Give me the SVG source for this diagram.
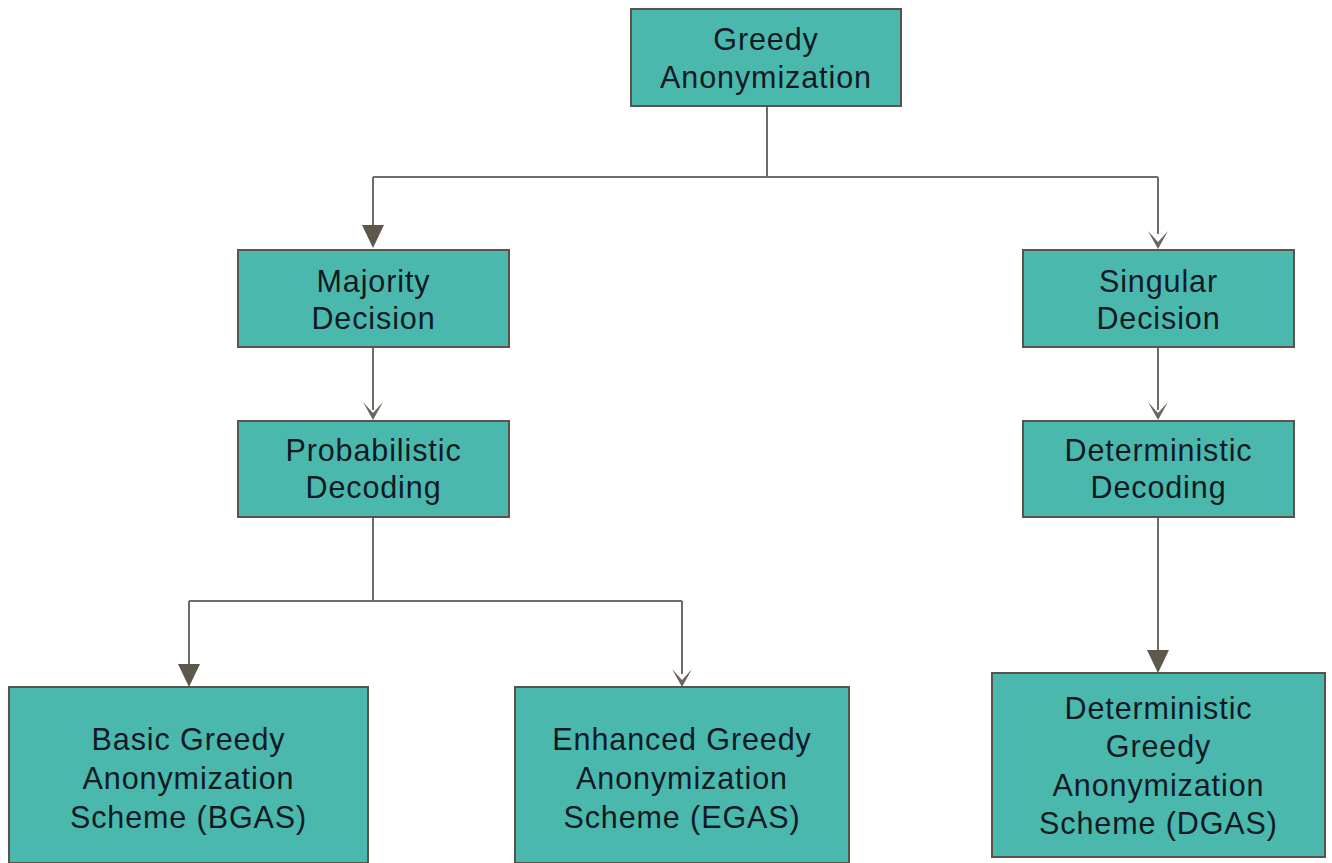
<svg xmlns="http://www.w3.org/2000/svg" width="1332" height="863" viewBox="0 0 1332 863">
  <style>
    .box { fill: #4bb8ad; stroke: #5b524a; stroke-width: 2; }
    .lbl { font-family: "Liberation Sans", Arial, sans-serif; font-size: 30.5px; fill: #111a24; text-anchor: middle; letter-spacing: 0.9px; }
    .wire { fill: none; stroke: #6e6a66; stroke-width: 2; }
    .solid { fill: #5e574b; }
    .barb { fill: #6b6560; }
  </style>
  <defs>
    <!-- filled triangular head, tip at origin pointing down -->
    <path id="headSolid" class="solid" d="M-11,-23 L11,-23 L0,0 Z"/>
    <!-- barbed head with concave back -->
    <path id="headBarb" class="barb" d="M-10,-18 L0,0 L10,-18 L0,-7 Z"/>
  </defs>
  <rect width="1332" height="863" fill="#ffffff"/>

  <g id="connectors">
    <path class="wire" d="M767,106 V177 M373,177 H1158 M373,177 V228 M1158,177 V234"/>
    <use href="#headSolid" x="373" y="248"/>
    <use href="#headBarb" x="1158" y="249"/>
    <path class="wire" d="M373,347 V410"/>
    <use href="#headBarb" x="373" y="420"/>
    <path class="wire" d="M1158,347 V410"/>
    <use href="#headBarb" x="1158" y="420"/>
    <path class="wire" d="M373,517 V601 M189,601 H682 M189,601 V666 M682,601 V674"/>
    <use href="#headSolid" x="189" y="687"/>
    <use href="#headBarb" x="682" y="687"/>
    <path class="wire" d="M1158,517 V652"/>
    <use href="#headSolid" x="1158" y="673"/>
  </g>

  <g id="greedy-anonymization">
    <rect class="box" x="631" y="9" width="270" height="97"/>
    <text class="lbl" x="766" y="50">Greedy</text>
    <text class="lbl" x="766" y="88">Anonymization</text>
  </g>

  <g id="majority-decision">
    <rect class="box" x="238" y="250" width="271" height="97"/>
    <text class="lbl" x="373.5" y="292">Majority</text>
    <text class="lbl" x="373.5" y="329">Decision</text>
  </g>

  <g id="singular-decision">
    <rect class="box" x="1023" y="250" width="271" height="97"/>
    <text class="lbl" x="1158.5" y="292">Singular</text>
    <text class="lbl" x="1158.5" y="329">Decision</text>
  </g>

  <g id="probabilistic-decoding">
    <rect class="box" x="238" y="421" width="271" height="96"/>
    <text class="lbl" x="373.5" y="461">Probabilistic</text>
    <text class="lbl" x="373.5" y="498">Decoding</text>
  </g>

  <g id="deterministic-decoding">
    <rect class="box" x="1023" y="421" width="271" height="96"/>
    <text class="lbl" x="1158.5" y="461">Deterministic</text>
    <text class="lbl" x="1158.5" y="498">Decoding</text>
  </g>

  <g id="bgas">
    <rect class="box" x="9" y="687" width="359" height="176"/>
    <text class="lbl" x="188.5" y="750">Basic Greedy</text>
    <text class="lbl" x="188.5" y="789">Anonymization</text>
    <text class="lbl" x="188.5" y="828">Scheme (BGAS)</text>
  </g>

  <g id="egas">
    <rect class="box" x="515" y="687" width="334" height="176"/>
    <text class="lbl" x="682" y="750">Enhanced Greedy</text>
    <text class="lbl" x="682" y="789">Anonymization</text>
    <text class="lbl" x="682" y="828">Scheme (EGAS)</text>
  </g>

  <g id="dgas">
    <rect class="box" x="992" y="673" width="333" height="184"/>
    <text class="lbl" x="1158.5" y="719">Deterministic</text>
    <text class="lbl" x="1158.5" y="757">Greedy</text>
    <text class="lbl" x="1158.5" y="796">Anonymization</text>
    <text class="lbl" x="1158.5" y="834">Scheme (DGAS)</text>
  </g>
</svg>
